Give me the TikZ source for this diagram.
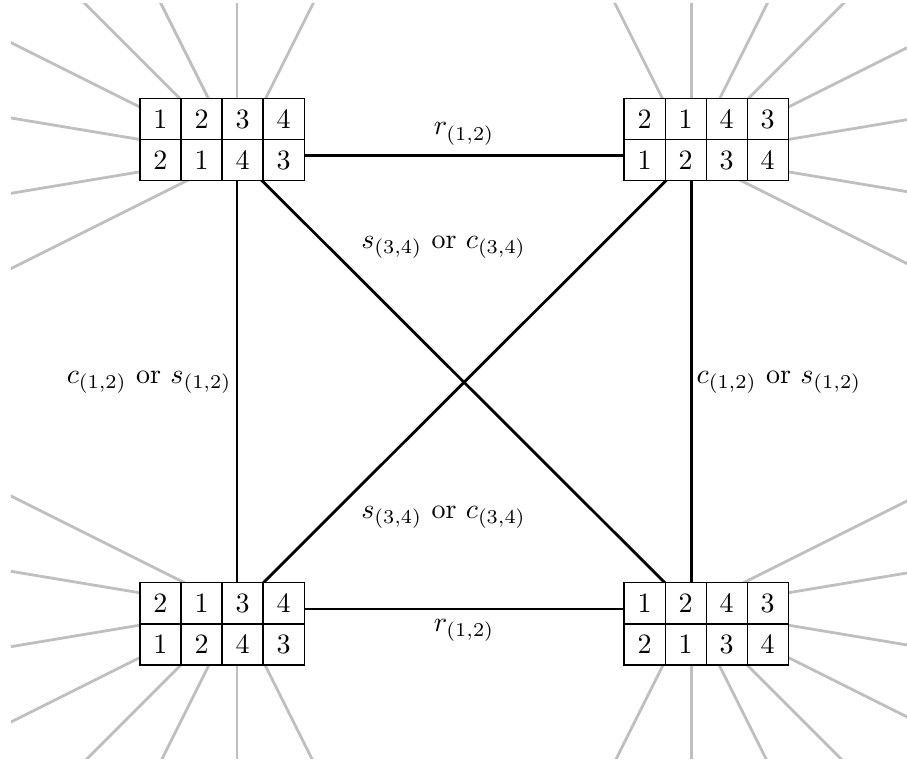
\documentclass[tikz,border=0pt]{standalone}
\usetikzlibrary{matrix}
\tikzset{
  perm/.style={matrix of nodes,inner sep=0pt,column sep=-.4pt,row sep=-.4pt,
    nodes={draw,fill=white,minimum width=.515cm,minimum height=.515cm,inner sep=0pt,anchor=center}},
  edge/.style={line width=1pt},
  stub/.style={line width=1pt,black!25},
}
\begin{document}
\begin{tikzpicture}[x=1cm,y=1cm]
\useasboundingbox (-2.975,-1.933) rectangle (8.41,7.644);
\coordinate (bl) at (0,0);
\coordinate (br) at (5.7,0);
\coordinate (tl) at (0,5.69);
\coordinate (tr) at (5.7,5.69);
% edges to the rest of the graph
\begin{scope}
\clip (-2.837,-1.883) rectangle (8.41,7.594);
\foreach \h/\sx/\sy in {tl/1/1,tr/-1/1,bl/1/-1,br/-1/-1}{
  \foreach \dx/\dy in {1/2,0/1,-1/2,-1/1,-2/1,-6/1,-6/-1,-2/-1}{
    \draw[stub] (\h)--++({3*\sx*\dx},{3*\sy*\dy});}}
\end{scope}
\draw[edge] (tl)--(tr) node[midway,above] {$r_{(1,2)}$};
\draw[edge] (bl)--(br) node[midway,below] {$r_{(1,2)}$};
\draw[edge] (tl)--(bl) node[midway,left,inner sep=1.5pt] {$c_{(1,2)}$ or $s_{(1,2)}$};
\draw[edge] (tr)--(br) node[midway,right,inner sep=1.5pt] {$c_{(1,2)}$ or $s_{(1,2)}$};
\draw[edge] (tl)--(br) node[pos=.25,above right] {$s_{(3,4)}$ or $c_{(3,4)}$};
\draw[edge] (tr)--(bl) node[pos=.75,below right] {$s_{(3,4)}$ or $c_{(3,4)}$};
% permutations
\matrix[perm] (mtl) at ([shift={(-.188,.201)}]tl) {1 & 2 & 3 & 4\\ 2 & 1 & 4 & 3\\};
\matrix[perm] (mtr) at ([shift={(.188,.201)}]tr) {2 & 1 & 4 & 3\\ 1 & 2 & 3 & 4\\};
\matrix[perm] (mbl) at ([shift={(-.188,-.188)}]bl) {2 & 1 & 3 & 4\\ 1 & 2 & 4 & 3\\};
\matrix[perm] (mbr) at ([shift={(.188,-.188)}]br) {1 & 2 & 4 & 3\\ 2 & 1 & 3 & 4\\};
\end{tikzpicture}
\end{document}
